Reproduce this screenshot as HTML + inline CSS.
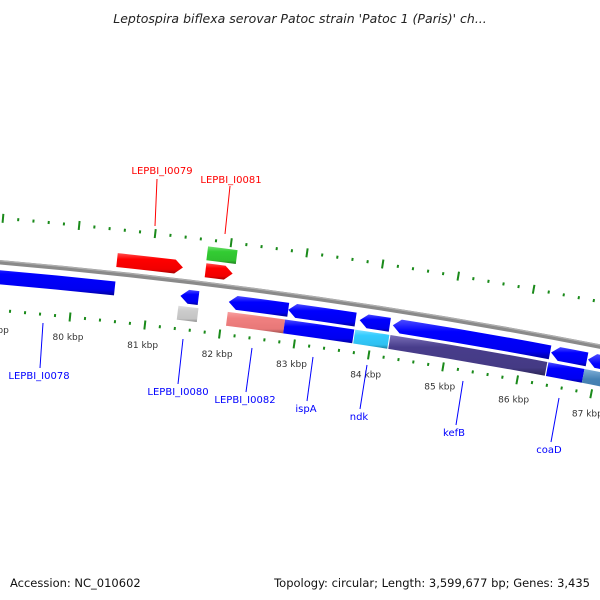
<!DOCTYPE html>
<html><head><meta charset="utf-8"><style>
html,body{margin:0;padding:0;background:#fff;}
svg{display:block;font-family:"DejaVu Sans","Liberation Sans",sans-serif;}
</style></head><body>
<svg id="map" width="600" height="600" viewBox="0 0 600 600" xmlns="http://www.w3.org/2000/svg">
<defs>
<linearGradient id="g-blue" x1="0" y1="0" x2="0" y2="1"><stop offset="0" stop-color="#4d4dff"/><stop offset="0.3" stop-color="#0000ff"/><stop offset="0.8" stop-color="#0000f0"/><stop offset="1" stop-color="#00009a"/></linearGradient>
<linearGradient id="g-red" x1="0" y1="0" x2="0" y2="1"><stop offset="0" stop-color="#ff5050"/><stop offset="0.3" stop-color="#ff0000"/><stop offset="0.8" stop-color="#f00000"/><stop offset="1" stop-color="#a00000"/></linearGradient>
<linearGradient id="g-green" x1="0" y1="0" x2="0" y2="1"><stop offset="0" stop-color="#70e070"/><stop offset="0.3" stop-color="#33cc33"/><stop offset="0.8" stop-color="#30c030"/><stop offset="1" stop-color="#1f801f"/></linearGradient>
<linearGradient id="g-gray" x1="0" y1="0" x2="0" y2="1"><stop offset="0" stop-color="#e0e0e0"/><stop offset="0.3" stop-color="#cccccc"/><stop offset="0.8" stop-color="#c4c4c4"/><stop offset="1" stop-color="#888888"/></linearGradient>
<linearGradient id="g-pink" x1="0" y1="0" x2="0" y2="1"><stop offset="0" stop-color="#f8a0a0"/><stop offset="0.3" stop-color="#f08080"/><stop offset="0.8" stop-color="#e87878"/><stop offset="1" stop-color="#a05050"/></linearGradient>
<linearGradient id="g-cyan" x1="0" y1="0" x2="0" y2="1"><stop offset="0" stop-color="#80e0ff"/><stop offset="0.3" stop-color="#33ccff"/><stop offset="0.8" stop-color="#30c0f0"/><stop offset="1" stop-color="#1a80a0"/></linearGradient>
<linearGradient id="g-slate" x1="0" y1="0" x2="0" y2="1"><stop offset="0" stop-color="#7a70b8"/><stop offset="0.3" stop-color="#483d8b"/><stop offset="0.8" stop-color="#443a84"/><stop offset="1" stop-color="#2a2456"/></linearGradient>
<linearGradient id="g-steel" x1="0" y1="0" x2="0" y2="1"><stop offset="0" stop-color="#80b0d8"/><stop offset="0.3" stop-color="#4682b4"/><stop offset="0.8" stop-color="#427cac"/><stop offset="1" stop-color="#2a5070"/></linearGradient>
</defs>
<text x="300" y="23" text-anchor="middle" font-size="12.5" font-style="italic" fill="#222">Leptospira biflexa serovar Patoc strain 'Patoc 1 (Paris)' ch...</text>
<g id="ticks"></g>
<g id="backbone"></g>
<g id="features"></g>
<g id="labels" font-size="10">
<line x1="157" y1="179" x2="155" y2="226" stroke="#f00"/>
<text x="162" y="174" text-anchor="middle" fill="#f00">LEPBI_I0079</text>
<line x1="230" y1="186" x2="225" y2="234" stroke="#f00"/>
<text x="231" y="183" text-anchor="middle" fill="#f00">LEPBI_I0081</text>
<line x1="43" y1="323" x2="40" y2="368" stroke="#00f"/>
<text x="39" y="379" text-anchor="middle" fill="#00f">LEPBI_I0078</text>
<line x1="183" y1="339" x2="178" y2="384" stroke="#00f"/>
<text x="178" y="395" text-anchor="middle" fill="#00f">LEPBI_I0080</text>
<line x1="252" y1="348" x2="246" y2="392" stroke="#00f"/>
<text x="245" y="403" text-anchor="middle" fill="#00f">LEPBI_I0082</text>
<line x1="313" y1="357" x2="307" y2="401" stroke="#00f"/>
<text x="306" y="412" text-anchor="middle" fill="#00f">ispA</text>
<line x1="367" y1="365" x2="360" y2="409" stroke="#00f"/>
<text x="359" y="420" text-anchor="middle" fill="#00f">ndk</text>
<line x1="463" y1="381" x2="456" y2="425" stroke="#00f"/>
<text x="454" y="436" text-anchor="middle" fill="#00f">kefB</text>
<line x1="559" y1="398" x2="551" y2="442" stroke="#00f"/>
<text x="549" y="453" text-anchor="middle" fill="#00f">coaD</text>
</g>
<text x="10" y="587" font-size="11.5" fill="#111">Accession: NC_010602</text>
<text x="590" y="587" font-size="11.5" fill="#111" text-anchor="end">Topology: circular; Length: 3,599,677 bp; Genes: 3,435</text>
</svg>
<script>
const featStart = [78000, 80540, 81711, 81706, 81423, 82067, 82859, 83812, 84255, 86376, 86872, 81412, 82070, 82835, 83773, 84244, 86365, 86850];
const featEnd   = [80550, 81412, 82070, 82095, 81664, 82859, 83758, 84215, 86362, 86859, 88200, 81680, 82835, 83760, 84230, 86350, 86850, 88200];
const featDir   = [-1, 1, 1, 0, -1, -1, -1, -1, -1, -1, -1, 0, 0, 0, 0, 0, 0, 0];
const featRing  = [-1, 1, 1, 2, -1, -1, -1, -1, -1, -1, -1, -2, -2, -2, -2, -2, -2, -2];
const featColor = ['blue','red','red','green','blue','blue','blue','blue','blue','blue','blue','gray','pink','blue','cyan','slate','blue','steel'];
const tickMajorStep = 1000;
const tickMinorStep = 200;
const tickRangeStart = 78000;
const tickRangeEnd = 88000;

const NS = 'http://www.w3.org/2000/svg';
const cx = -492, cy = 5941, R0 = 5700;
const PHI80 = 0.0996, RAD_PER_BP = 0.01332 / 1000;
function phi(bp){ return PHI80 + (bp - 80000) * RAD_PER_BP; }
function pt(r, a){ return [cx + r * Math.sin(a), cy - r * Math.cos(a)]; }
function P(p){ return p[0].toFixed(2) + ' ' + p[1].toFixed(2); }
function arcTo(r, a, sweep){ return ' A ' + r + ' ' + r + ' 0 0 ' + sweep + ' ' + P(pt(r, a)); }
const ringRadius = {'1': R0 + 13.5, '2': R0 + 30.5, '-1': R0 - 15, '-2': R0 - 32};
const H = 14;

function featPath(r, a1, a2, dir){
  const ro = r + H/2, ri = r - H/2;
  const head = Math.min(8 / r, a2 - a1);
  if (dir === 1) {
    return 'M ' + P(pt(ro, a1)) + arcTo(ro, a2 - head, 1) + ' L ' + P(pt(r, a2)) + ' L ' + P(pt(ri, a2 - head)) + arcTo(ri, a1, 0) + ' Z';
  } else if (dir === -1) {
    return 'M ' + P(pt(r, a1)) + ' L ' + P(pt(ro, a1 + head)) + arcTo(ro, a2, 1) + ' L ' + P(pt(ri, a2)) + arcTo(ri, a1 + head, 0) + ' Z';
  }
  return 'M ' + P(pt(ro, a1)) + arcTo(ro, a2, 1) + ' L ' + P(pt(ri, a2)) + arcTo(ri, a1, 0) + ' Z';
}

// backbone
const bb = document.getElementById('backbone');
const bA1 = phi(tickRangeStart), bA2 = phi(tickRangeEnd);
[[R0, 4.5, '#8a8a8a'], [R0 + 1.5, 1.2, '#b0b0b0']].forEach((s, i) => {
  const p = document.createElementNS(NS, 'path');
  p.setAttribute('d', 'M ' + P(pt(s[0], bA1)) + arcTo(s[0], bA2, 1));
  p.setAttribute('fill', 'none');
  p.setAttribute('stroke', s[2]);
  p.setAttribute('stroke-width', s[1]);
  
  
  bb.appendChild(p);
});

// features
const fg = document.getElementById('features');
for (let i = 0; i < featStart.length; i++) {
  const r = ringRadius[String(featRing[i])];
  const p = document.createElementNS(NS, 'path');
  p.setAttribute('d', featPath(r, phi(featStart[i]), phi(featEnd[i]), featDir[i]));
  p.setAttribute('fill', 'url(#g-' + featColor[i] + ')');
  
  
  fg.appendChild(p);
}

// ticks
const tg = document.getElementById('ticks');
const tickRows = [R0 + 44, R0 - 48];
for (let bp = tickRangeStart; bp <= tickRangeEnd; bp += tickMinorStep) {
  const major = bp % tickMajorStep === 0;
  const a = phi(bp);
  tickRows.forEach((rc, row) => {
    const len = major ? 9 : 3;
    const l = document.createElementNS(NS, 'line');
    const p1 = pt(rc - len/2, a), p2 = pt(rc + len/2, a);
    l.setAttribute('x1', p1[0]); l.setAttribute('y1', p1[1]);
    l.setAttribute('x2', p2[0]); l.setAttribute('y2', p2[1]);
    l.setAttribute('stroke', '#1a8a1a');
    l.setAttribute('stroke-width', 2);
    
    
    tg.appendChild(l);
  });
  if (major) {
    const lp = pt(R0 - 68, a);
    const t = document.createElementNS(NS, 'text');
    t.setAttribute('x', lp[0]); t.setAttribute('y', lp[1] + 3);
    t.setAttribute('text-anchor', 'middle');
    t.setAttribute('font-size', '9');
    t.setAttribute('fill', '#333');
    
    
    t.textContent = (bp / 1000) + ' kbp';
    tg.appendChild(t);
  }
}
</script>
</body></html>
